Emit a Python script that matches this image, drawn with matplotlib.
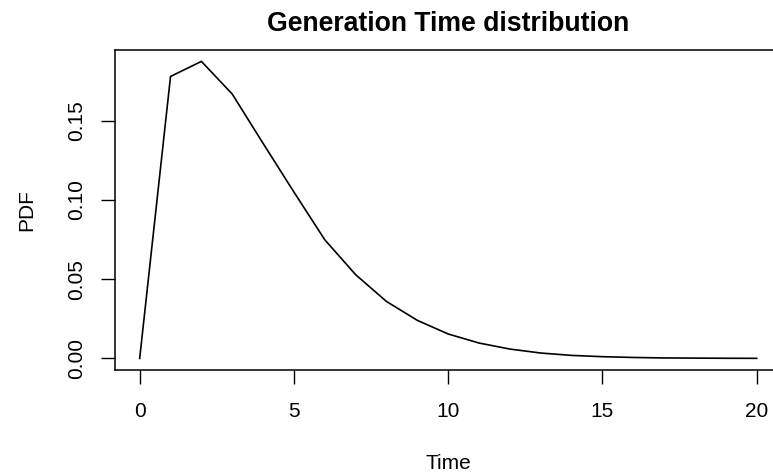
import matplotlib
matplotlib.use("Agg")
import matplotlib.pyplot as plt

plt.rcParams['font.family'] = ['Liberation Sans', 'DejaVu Sans']

# generation time PDF, one value per time step
time = list(range(0, 21))
pdf = [0.0, 0.1778, 0.1873, 0.1667, 0.1356, 0.1049, 0.0748, 0.0528,
       0.0359, 0.0240, 0.0154, 0.0097, 0.0059, 0.0034, 0.0019, 0.0011,
       0.0006, 0.0003, 0.0002, 0.0001, 0.00005]

x_ticks = [0, 5, 10, 15, 20]
y_ticks = [0.00, 0.05, 0.10, 0.15]
y_tick_labels = ['0.00', '0.05', '0.10', '0.15']

W, H = 773, 473
fig = plt.figure(figsize=(W / 100, H / 100), dpi=100)

# box in pixels (R style, box runs past the right edge of the picture)
left, right, top, bottom = 115, 781.4, 49.5, 370.3
ax = fig.add_axes([left / W, (H - bottom) / H, (right - left) / W, (bottom - top) / H])

ax.plot(time, pdf, color='black', lw=1.2)

# R's 4% axis expansion
xr = max(time) - min(time)
yr = max(pdf) - min(pdf)
ax.set_xlim(min(time) - 0.04 * xr, max(time) + 0.04 * xr)
ax.set_ylim(min(pdf) - 0.04 * yr, max(pdf) + 0.04 * yr)

ax.set_xticks(x_ticks)
ax.set_yticks(y_ticks)
ax.set_yticklabels(y_tick_labels, rotation=90, va='center')
ax.tick_params(direction='out', length=10, width=1, labelsize=15, color='black')
ax.tick_params(axis='x', pad=13)
ax.tick_params(axis='y', pad=11)

for s in ax.spines.values():
    s.set_linewidth(1.1)
    s.set_color('black')

ax.set_title('Generation Time distribution', fontsize=19.2, fontweight='bold',
             y=1.0795, va='center', pad=0)
ax.set_xlabel('Time', fontsize=15, va='center')
ax.xaxis.set_label_coords(0.5, -0.289)
ax.set_ylabel('PDF', fontsize=15, va='center')
ax.yaxis.set_label_coords(-0.132, 0.5)

fig.savefig('out.png', dpi=100)
